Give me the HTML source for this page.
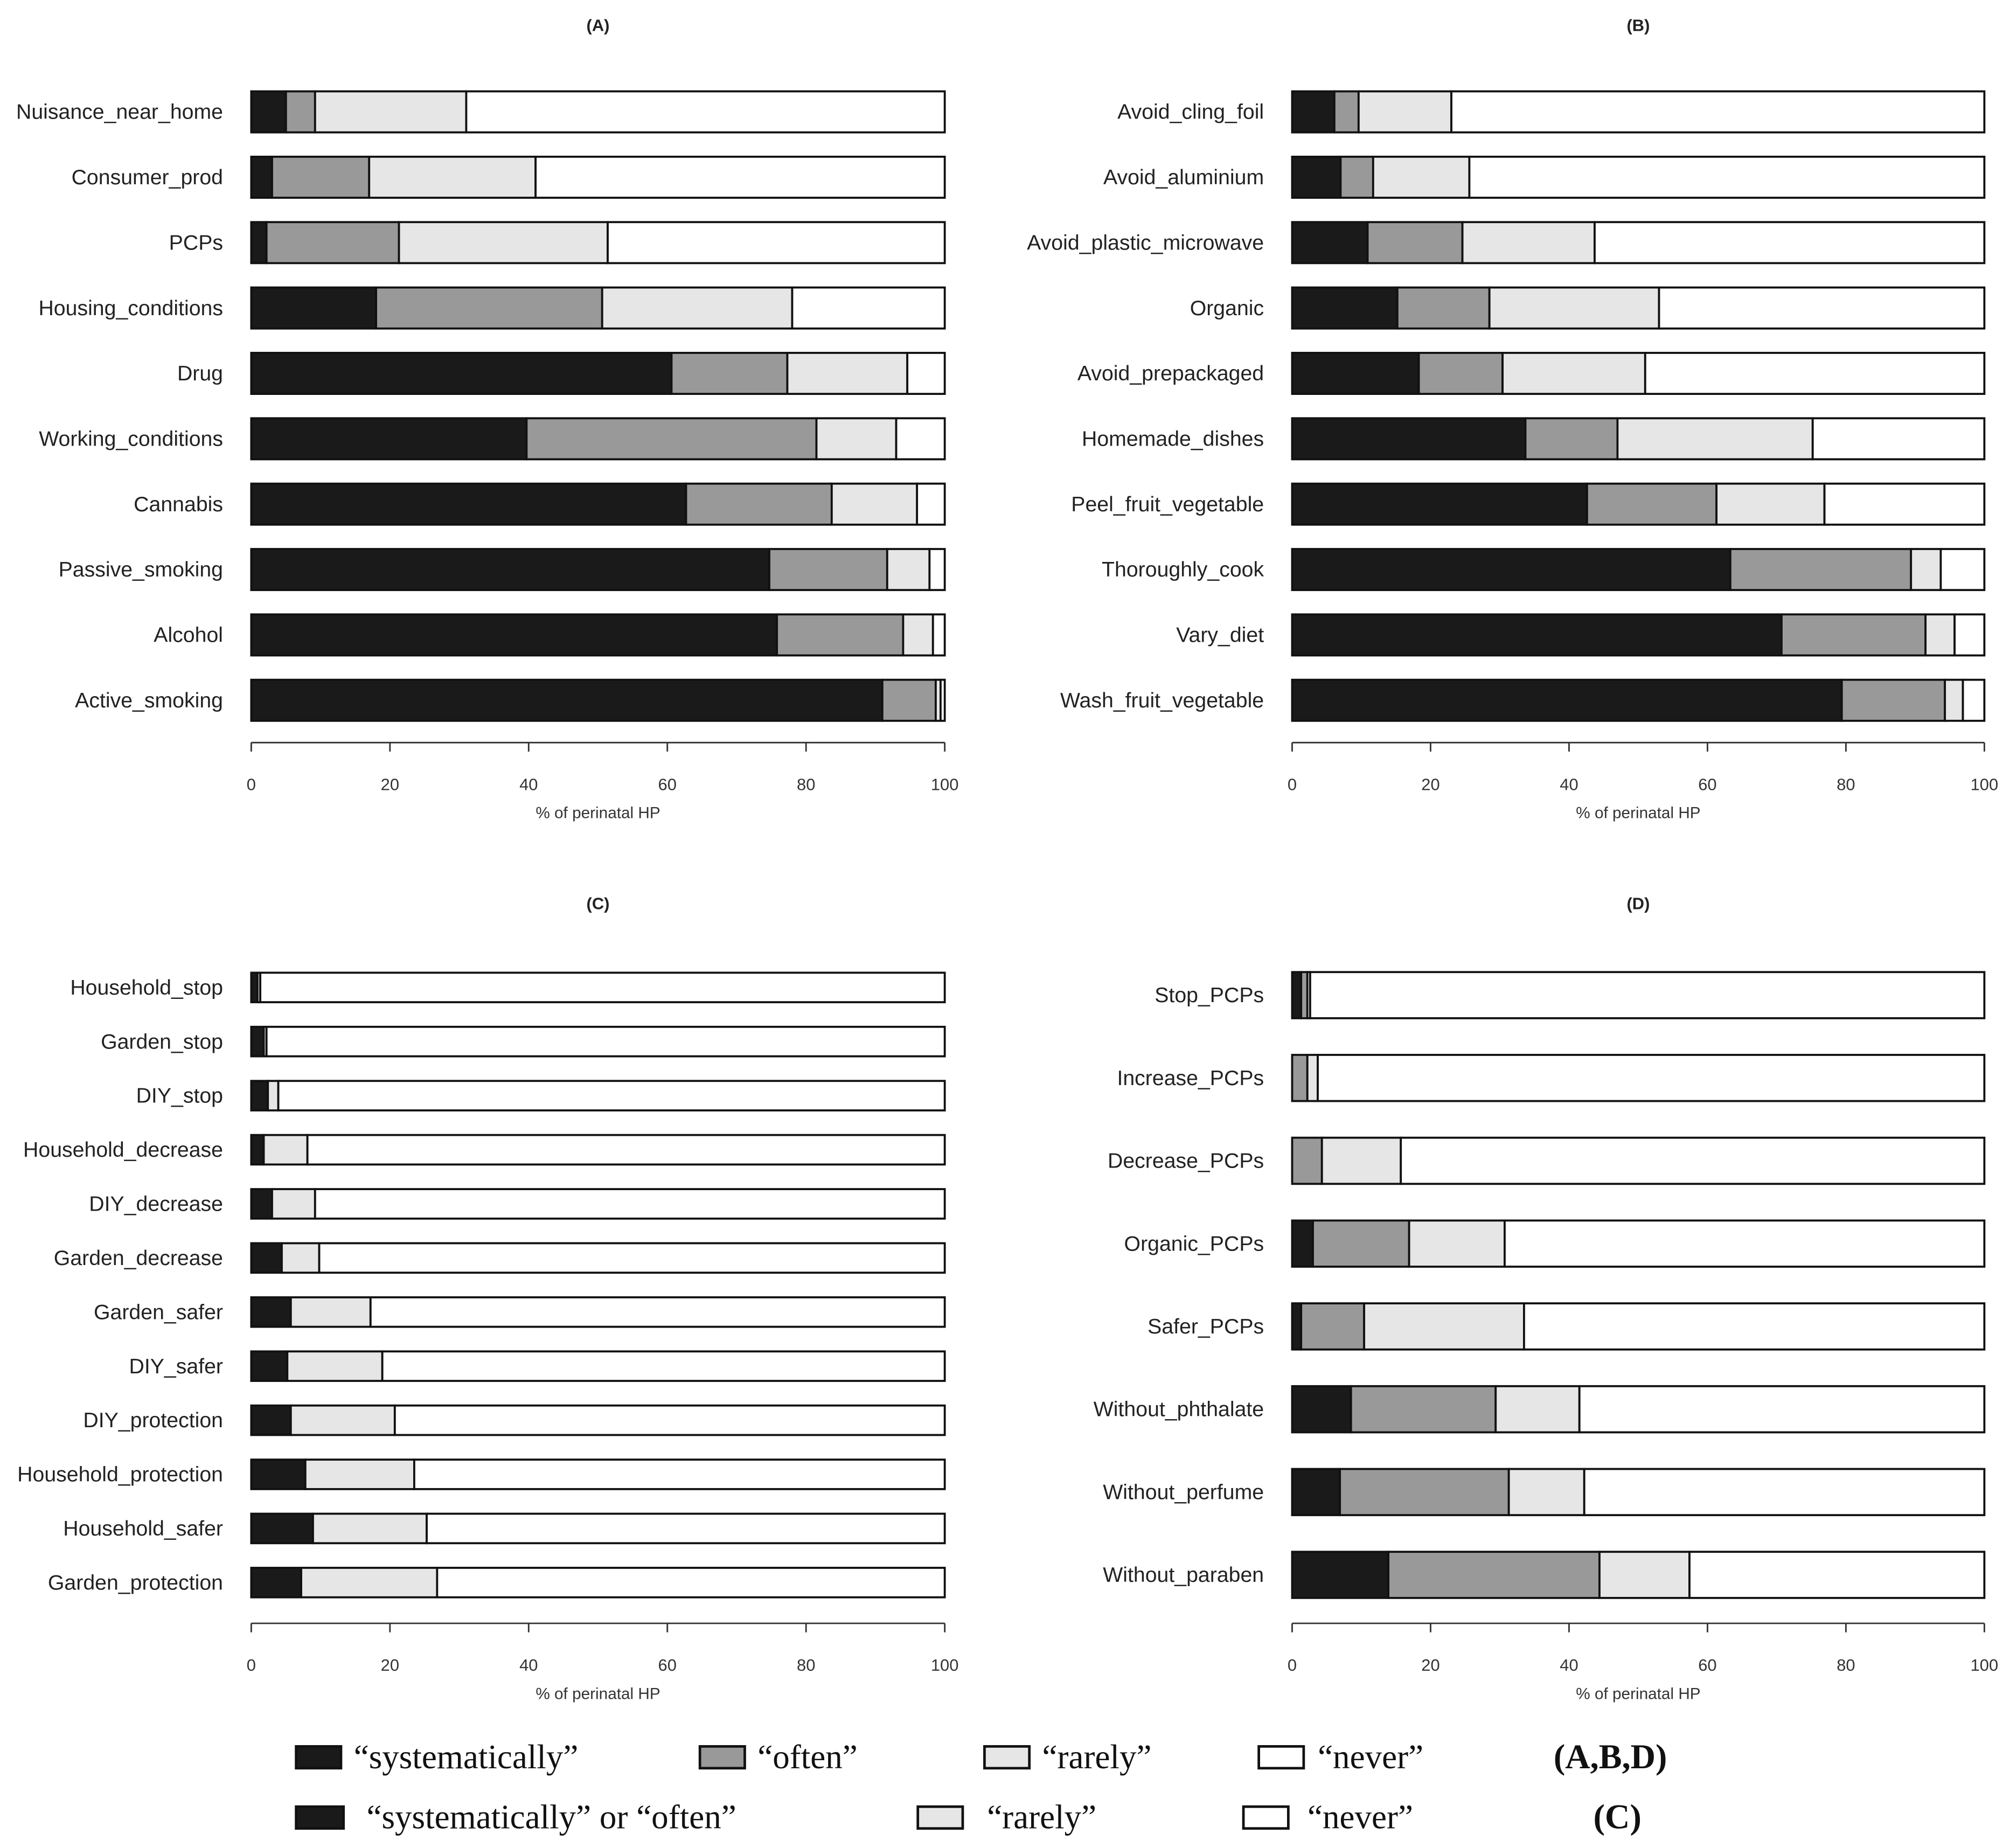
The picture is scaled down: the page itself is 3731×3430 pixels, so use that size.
<!DOCTYPE html>
<html><head><meta charset="utf-8"><style>
html,body{margin:0;padding:0;background:#fff;}
svg{display:block;}
</style></head><body>
<svg id="chart" width="3731" height="3430" viewBox="0 0 1568 1441" xmlns="http://www.w3.org/2000/svg"></svg>
<script>
const catsA=["Nuisance_near_home","Consumer_prod","PCPs","Housing_conditions","Drug","Working_conditions","Cannabis","Passive_smoking","Alcohol","Active_smoking"];
const sysA=[5,3,2.2,18,60.6,39.7,62.7,74.7,75.8,91];
const oftenA=[4.2,14,19.1,32.6,16.7,41.8,21,17,18.2,7.7];
const rarelyA=[21.8,24,30.1,27.4,17.3,11.5,12.3,6.1,4.3,0.7];
const catsB=["Avoid_cling_foil","Avoid_aluminium","Avoid_plastic_microwave","Organic","Avoid_prepackaged","Homemade_dishes","Peel_fruit_vegetable","Thoroughly_cook","Vary_diet","Wash_fruit_vegetable"];
const sysB=[6.1,7,10.9,15.2,18.3,33.7,42.6,63.3,70.7,79.4];
const oftenB=[3.5,4.7,13.7,13.3,12.1,13.3,18.7,26.1,20.8,14.9];
const rarelyB=[13.4,13.9,19.1,24.5,20.6,28.2,15.6,4.3,4.2,2.6];
const catsC=["Household_stop","Garden_stop","DIY_stop","Household_decrease","DIY_decrease","Garden_decrease","Garden_safer","DIY_safer","DIY_protection","Household_protection","Household_safer","Garden_protection"];
const sysOftenC=[0.9,1.8,2.4,1.8,3,4.4,5.7,5.2,5.7,7.8,8.9,7.2];
const rarelyC=[0.4,0.4,1.5,6.3,6.2,5.4,11.5,13.7,15,15.7,16.4,19.6];
const catsD=["Stop_PCPs","Increase_PCPs","Decrease_PCPs","Organic_PCPs","Safer_PCPs","Without_phthalate","Without_perfume","Without_paraben"];
const sysD=[1.3,0,0,3,1.3,8.5,6.9,13.9];
const oftenD=[0.9,2.2,4.3,13.9,9.1,20.9,24.4,30.5];
const rarelyD=[0.4,1.5,11.4,13.8,23.1,12.1,10.9,13];
const ticks=[0,20,40,60,80,100];

const NS="http://www.w3.org/2000/svg";
const svg=document.getElementById('chart');
const COLORS=["#1a1a1a","#999999","#e6e6e6","#ffffff"];
function mk(tag,attrs,parent){const e=document.createElementNS(NS,tag);for(const k in attrs)e.setAttribute(k,attrs[k]);(parent||svg).appendChild(e);return e;}

function panel(id,title,cats,series,x0,x1,yFirst,yStep,barH,axisY,titleY){
  const g=mk('g',{});
  
  
  const xs=v=>x0+(x1-x0)*v/100;
  const t=mk('text',{x:(x0+x1)/2,y:titleY,'text-anchor':'middle','font-family':'Liberation Sans, sans-serif','font-size':13,'font-weight':'bold',fill:'#222'},g);
  t.textContent=title;
  
  
  cats.forEach((c,i)=>{
    const yc=yFirst+i*yStep;
    const lab=mk('text',{x:x0-22,y:yc+5.5,'text-anchor':'end','font-family':'Liberation Sans, sans-serif','font-size':16.5,fill:'#222'},g);
    lab.textContent=c;
    
    
    let acc=0;
    const vals=series.map(s=>s[i]);
    const total=vals.reduce((a,b)=>a+b,0);
    vals.push(100-total);
    const colors=series.length===2?[COLORS[0],COLORS[2],COLORS[3]]:COLORS;
    vals.forEach((v,k)=>{
      const r=mk('rect',{x:xs(acc),y:yc-barH/2,width:Math.max(0,xs(acc+v)-xs(acc)),height:barH,fill:colors[k],stroke:'#111','stroke-width':1.6},g);
      
      
      acc+=v;
    });
  });
  const ax=mk('line',{x1:xs(0),x2:xs(100),y1:axisY,y2:axisY,stroke:'#333','stroke-width':1.2},g);
  
  
  ticks.forEach(tv=>{
    mk('line',{x1:xs(tv),x2:xs(tv),y1:axisY,y2:axisY+7,stroke:'#333','stroke-width':1.2},g);
    const tl=mk('text',{x:xs(tv),y:axisY+37,'text-anchor':'middle','font-family':'Liberation Sans, sans-serif','font-size':13,fill:'#333'},g);
    tl.textContent=tv;
    
    
  });
  const at=mk('text',{x:(x0+x1)/2,y:axisY+59,'text-anchor':'middle','font-family':'Liberation Sans, sans-serif','font-size':12.5,fill:'#333'},g);
  at.textContent='% of perinatal HP';
  
  
}
panel('a','(A)',catsA,[sysA,oftenA,rarelyA],196,737,87,51,32,579,24);
panel('b','(B)',catsB,[sysB,oftenB,rarelyB],1008,1548,87,51,32,579,24);
panel('c','(C)',catsC,[sysOftenC,rarelyC],196,737,770,42.2,23,1266,709);
panel('d','(D)',catsD,[sysD,oftenD,rarelyD],1008,1548,776,64.6,36,1266,709);

// legend
const lg=mk('g',{});


const leg=[
 [231,1370,35,COLORS[0],276,'\u201Csystematically\u201D'],
 [546,1370,35,COLORS[1],591,'\u201Coften\u201D'],
 [768,1370,35,COLORS[2],813,'\u201Crarely\u201D'],
 [982,1370,35,COLORS[3],1028,'\u201Cnever\u201D'],
 [231,1417,37,COLORS[0],286,'\u201Csystematically\u201D or \u201Coften\u201D'],
 [716,1417,35,COLORS[2],770,'\u201Crarely\u201D'],
 [970,1417,35,COLORS[3],1020,'\u201Cnever\u201D']
];
leg.forEach(l=>{
  const r=mk('rect',{x:l[0],y:l[1]-8,width:l[2],height:17,fill:l[3],stroke:'#111','stroke-width':2},lg);
  
  
  const t=mk('text',{x:l[4],y:l[1]+9,'font-family':'Liberation Serif, serif','font-size':26.5,fill:'#111'},lg);
  t.textContent=l[5];
  
  
});
const p1=mk('text',{x:1212,y:1379,'font-family':'Liberation Serif, serif','font-size':27,'font-weight':'bold',fill:'#111'},lg);
p1.textContent='(A,B,D)';


const p2=mk('text',{x:1243,y:1426,'font-family':'Liberation Serif, serif','font-size':27,'font-weight':'bold',fill:'#111'},lg);
p2.textContent='(C)';


</script>
</body></html>
